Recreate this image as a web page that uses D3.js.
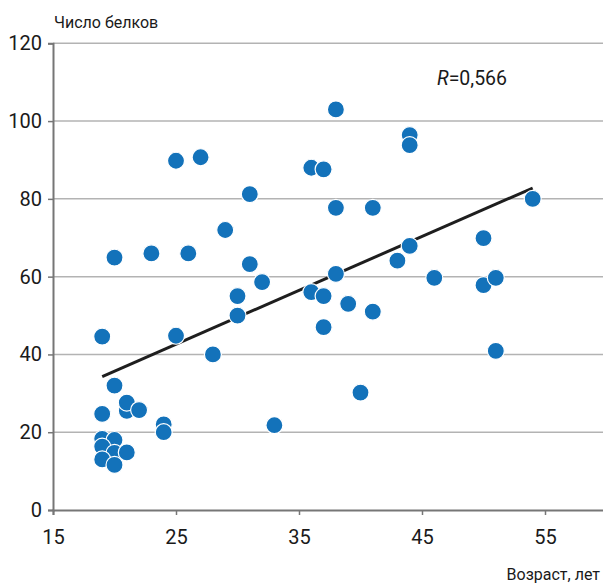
<!DOCTYPE html>
<html>
<head>
<meta charset="utf-8">
<script src="https://cdn.jsdelivr.net/npm/d3@7"></script>
<style>
  html, body { margin: 0; padding: 0; background: #fff; }
  svg { display: block; }
  text { font-family: Roboto, "Noto Sans", sans-serif; fill: #1a1a1a; }
</style>
</head>
<body>
<svg id="chart" width="603" height="583"></svg>
<script>
// Age (years) of each subject
const ages = [
  19, 20, 20, 19, 19, 20, 19, 20, 21, 19, 20,
  21, 21, 22, 24, 24, 23, 25, 25, 26, 27, 28,
  29, 30, 30, 31, 31, 32, 33, 36, 37, 38, 38,
  36, 37, 38, 37, 39, 40, 41, 41, 43, 44, 44,
  44, 46, 50, 50, 51, 51, 54
];
// Number of proteins for each subject
const proteins = [
  44.6, 64.9, 32, 24.7, 18.3, 18, 16.3, 14.7, 14.8, 13, 11.6,
  25.5, 27.6, 25.7, 22, 20, 66, 89.8, 44.8, 66, 90.7, 40,
  72, 55, 50, 81.2, 63.2, 58.6, 21.8, 88, 87.6, 103, 77.7,
  56, 55, 60.7, 47, 53, 30.2, 77.7, 51, 64.1, 96.4, 93.8,
  67.9, 59.7, 69.9, 57.8, 59.7, 40.9, 80
];
const xTicks = [15, 25, 35, 45, 55];
const yTicks = [0, 20, 40, 60, 80, 100, 120];
const yTitle = "Число белков";
const xTitle = "Возраст, лет";
const rLabel = "0,566";

const svg = d3.select("#chart");
const x = d3.scaleLinear().domain([15, 60]).range([53, 606.5]);
const y = d3.scaleLinear().domain([0, 120]).range([510, 43.3]);

// horizontal gridlines
svg.append("g")
  .selectAll("line")
  .data(yTicks.filter(d => d > 0))
  .join("line")
  .attr("x1", x(15)).attr("x2", 603)
  .attr("y1", d => y(d)).attr("y2", d => y(d))
  .attr("stroke", "#b3b3b3").attr("stroke-width", 1.5);

// y axis
const yAxis = svg.append("g")
  .attr("transform", `translate(${x(15)},0)`)
  .call(d3.axisLeft(y).tickValues(yTicks).tickSize(5).tickPadding(6).tickFormat(d3.format("d")));
yAxis.select(".domain").attr("stroke", "#767676").attr("stroke-width", 2);
yAxis.selectAll(".tick line").attr("stroke", "#767676").attr("stroke-width", 1.5);
yAxis.selectAll(".tick text")
  .attr("font-size", 20).attr("font-family", "Roboto, sans-serif").attr("fill", "#1a1a1a");

// x axis
const xAxis = svg.append("g")
  .attr("transform", `translate(0,${y(0)})`)
  .call(d3.axisBottom(x).tickValues(xTicks).tickSize(5).tickPadding(15).tickFormat(d3.format("d")));
xAxis.select(".domain").attr("stroke", "#767676").attr("stroke-width", 2);
xAxis.selectAll(".tick line").attr("stroke", "#767676").attr("stroke-width", 1.5);
xAxis.selectAll(".tick text")
  .attr("font-size", 20).attr("font-family", "Roboto, sans-serif").attr("fill", "#1a1a1a");

// least-squares trend line
const n = ages.length;
const mx = d3.mean(ages), my = d3.mean(proteins);
let sxy = 0, sxx = 0;
for (let i = 0; i < n; i++) {
  sxy += (ages[i] - mx) * (proteins[i] - my);
  sxx += (ages[i] - mx) ** 2;
}
const slope = sxy / sxx;
const intercept = my - slope * mx;
const [xmin, xmax] = d3.extent(ages);
svg.append("line")
  .attr("x1", x(xmin)).attr("y1", y(intercept + slope * xmin))
  .attr("x2", x(xmax)).attr("y2", y(intercept + slope * xmax))
  .attr("stroke", "#1e1e1e").attr("stroke-width", 3);

// points
svg.append("g")
  .selectAll("circle")
  .data(ages.map((a, i) => ({ a, p: proteins[i] })))
  .join("circle")
  .attr("cx", d => x(d.a))
  .attr("cy", d => y(d.p))
  .attr("r", 8.5)
  .attr("fill", "#1372ba")
  .attr("stroke", "#fff")
  .attr("stroke-width", 1.2);

// titles
svg.append("text").attr("x", 54).attr("y", 28).attr("font-size", 16).text(yTitle);
svg.append("text").attr("x", 600).attr("y", 580).attr("font-size", 16)
  .attr("text-anchor", "end").text(xTitle);

const r = svg.append("text").attr("x", 437).attr("y", 85).attr("font-size", 19.5);
r.append("tspan").attr("font-style", "italic").text("R");
r.append("tspan").text("=" + rLabel);
</script>
</body>
</html>
